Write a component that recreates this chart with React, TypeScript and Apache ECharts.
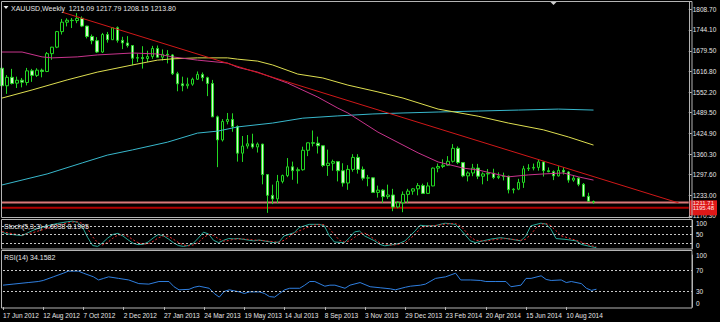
import React, { useEffect, useRef } from "react";
import * as echarts from "echarts";

// ---------- data ----------
const dateLabels = [
  "17 Jun 2012", "12 Aug 2012", "7 Oct 2012", "2 Dec 2012", "27 Jan 2013",
  "24 Mar 2013", "19 May 2013", "14 Jul 2013", "8 Sep 2013", "3 Nov 2013",
  "29 Dec 2013", "23 Feb 2014", "20 Apr 2014", "15 Jun 2014", "10 Aug 2014",
];
const LABEL_STEP = 8;
const SLOT_COUNT = 138; // weekly slots incl. chart shift space

const open = [
  1626, 1572, 1598, 1580, 1589, 1582, 1618, 1604, 1620, 1616, 1671, 1691, 1739, 1768, 1774, 1773, 1780, 1756, 1724, 1711,
  1676, 1730, 1714, 1751, 1712, 1704, 1696, 1657, 1659, 1656, 1662, 1687, 1660, 1669, 1667, 1609, 1578, 1572, 1577, 1592,
  1607, 1597, 1579, 1476, 1405, 1462, 1468, 1446, 1364, 1386, 1393, 1383, 1392, 1298, 1234, 1223, 1277, 1295, 1322, 1310,
  1313, 1373, 1396, 1395, 1387, 1326, 1333, 1338, 1310, 1272, 1314, 1351, 1314, 1287, 1288, 1243, 1250, 1230, 1235, 1198,
  1211, 1237, 1247, 1254, 1264, 1240, 1263, 1318, 1323, 1327, 1339, 1379, 1335, 1294, 1303, 1318, 1293, 1300, 1302, 1289,
  1293, 1293, 1251, 1253, 1274, 1316, 1318, 1320, 1337, 1310, 1307, 1294, 1311, 1306, 1281, 1287, 1268, 1231, 1215.09,
];
const high = [
  1628, 1605, 1624, 1600, 1596, 1627, 1624, 1626, 1625, 1676, 1692, 1741, 1778, 1780, 1781, 1796, 1786, 1757, 1730, 1722,
  1735, 1738, 1752, 1755, 1723, 1725, 1697, 1671, 1694, 1680, 1695, 1696, 1684, 1682, 1670, 1615, 1600, 1597, 1597, 1616,
  1613, 1600, 1590, 1480, 1469, 1488, 1487, 1450, 1417, 1420, 1424, 1397, 1393, 1299, 1267, 1297, 1298, 1349, 1338, 1320,
  1384, 1397, 1434, 1415, 1387, 1375, 1344, 1340, 1333, 1327, 1361, 1361, 1323, 1297, 1290, 1264, 1253, 1267, 1254, 1216,
  1246, 1254, 1256, 1272, 1270, 1274, 1320, 1332, 1345, 1355, 1392, 1385, 1336, 1308, 1331, 1331, 1305, 1315, 1316, 1305,
  1304, 1295, 1256, 1285, 1325, 1330, 1332, 1345, 1338, 1320, 1311, 1324, 1321, 1309, 1296, 1290, 1272, 1242, 1217.79,
];
const low = [
  1563, 1547, 1576, 1565, 1567, 1573, 1584, 1599, 1598, 1614, 1652, 1688, 1730, 1755, 1750, 1765, 1753, 1718, 1700, 1673,
  1673, 1705, 1713, 1705, 1685, 1690, 1635, 1645, 1625, 1645, 1655, 1658, 1650, 1641, 1605, 1555, 1555, 1563, 1572, 1590,
  1586, 1540, 1476, 1321, 1400, 1453, 1430, 1338, 1337, 1378, 1378, 1366, 1268, 1180, 1207, 1210, 1271, 1290, 1282, 1270,
  1310, 1355, 1385, 1363, 1321, 1294, 1310, 1277, 1261, 1251, 1307, 1301, 1280, 1262, 1241, 1227, 1211, 1223, 1185, 1194,
  1182, 1211, 1236, 1234, 1238, 1238, 1262, 1305, 1318, 1325, 1335, 1330, 1290, 1277, 1293, 1284, 1268, 1278, 1284, 1284,
  1280, 1240, 1240, 1250, 1257, 1309, 1311, 1310, 1292, 1305, 1281, 1292, 1298, 1273, 1276, 1262, 1229, 1215, 1208.15,
];
const close = [
  1572, 1598, 1579, 1589, 1583, 1618, 1604, 1620, 1616, 1671, 1691, 1739, 1768, 1774, 1773, 1780, 1756, 1724, 1711, 1676,
  1730, 1714, 1751, 1712, 1704, 1696, 1657, 1659, 1656, 1662, 1687, 1660, 1669, 1667, 1609, 1578, 1572, 1577, 1592, 1607,
  1597, 1579, 1476, 1405, 1462, 1468, 1446, 1364, 1386, 1393, 1383, 1392, 1298, 1234, 1223, 1277, 1295, 1322, 1310, 1313,
  1373, 1396, 1395, 1387, 1326, 1333, 1338, 1310, 1272, 1314, 1351, 1314, 1287, 1288, 1243, 1250, 1230, 1235, 1198, 1211,
  1237, 1247, 1254, 1264, 1240, 1263, 1318, 1323, 1327, 1339, 1379, 1335, 1294, 1303, 1318, 1293, 1300, 1302, 1289, 1293,
  1292, 1251, 1253, 1274, 1316, 1318, 1320, 1337, 1310, 1307, 1294, 1311, 1306, 1281, 1287, 1268, 1231, 1216, 1213.8,
];

// moving averages: [week index, price]
const maFast: [number, number][] = [
  [0, 1676], [4, 1676], [8, 1661], [10, 1658], [15, 1661], [19, 1667], [26, 1673], [31, 1670], [34, 1661], [39, 1651],
  [45, 1642], [47, 1629], [51, 1614], [57, 1580], [63, 1537], [67, 1503], [69, 1488], [75, 1429], [83, 1365], [87, 1337],
  [92, 1318], [95, 1312], [101, 1291], [105, 1297], [108, 1300], [112, 1303], [115, 1291], [118, 1281],
];
const maMid: [number, number][] = [
  [0, 1534], [6, 1559], [13, 1590], [19, 1614], [26, 1636], [31, 1651], [34, 1655], [39, 1658], [45, 1658], [47, 1654],
  [51, 1648], [54, 1636], [59, 1608], [64, 1596], [69, 1574], [75, 1553], [80, 1534], [87, 1500], [95, 1478], [101, 1457],
  [108, 1436], [113, 1414], [118, 1389],
];
const maSlow: [number, number][] = [
  [0, 1266], [9, 1300], [16, 1334], [21, 1358], [26, 1374], [33, 1398], [39, 1426], [43, 1432], [47, 1445], [54, 1457],
  [60, 1472], [67, 1479], [74, 1485], [80, 1488], [87, 1491], [95, 1494], [103, 1497], [111, 1500], [118, 1497],
];
const trendLine: [number, number][] = [[12, 1799], [135, 1210.5]];
const levelUpper = 1211.71;
const levelLower = 1195.48;

const priceTicks = [1170.3, 1233.0, 1297.6, 1360.3, 1424.9, 1489.5, 1552.2, 1616.8, 1679.5, 1744.1, 1808.7];
const PRICE_MIN = 1164.1;
const PRICE_MAX = 1830.3;

const stochK: [number, number][] = [
  [0, 58], [1, 52], [2, 50], [4, 46], [5, 55], [6, 63], [7, 70], [9, 80], [11, 88], [13, 94], [14, 96], [15, 92], [16, 75],
  [17, 40], [18, 12], [19, 9], [20, 22], [21, 38], [22, 50], [23, 54], [24, 45], [25, 32], [26, 20], [27, 15], [28, 16],
  [29, 24], [30, 38], [31, 50], [32, 46], [33, 35], [34, 22], [35, 12], [36, 9], [37, 12], [38, 20], [39, 38], [40, 58],
  [41, 52], [42, 30], [43, 22], [44, 30], [45, 36], [46, 35], [47, 36], [48, 33], [50, 28], [51, 31], [52, 28], [54, 22],
  [55, 24], [56, 45], [58, 56], [59, 74], [61, 85], [63, 85], [64, 80], [65, 45], [66, 24], [68, 22], [69, 39], [70, 59],
  [71, 62], [72, 45], [74, 28], [75, 16], [76, 11], [78, 16], [79, 20], [80, 28], [82, 62], [83, 82], [84, 80], [86, 80],
  [87, 85], [88, 89], [90, 85], [91, 68], [93, 28], [94, 22], [97, 34], [99, 39], [101, 34], [103, 28], [104, 45], [105, 80],
  [107, 89], [108, 86], [109, 68], [110, 36], [112, 33], [114, 28], [115, 16], [117, 8], [118, 4.6038],
];
const stochD: [number, number][] = [
  [0, 60], [2, 53], [4, 48], [6, 56], [8, 66], [10, 78], [12, 86], [14, 93], [15, 94], [16, 88], [17, 70], [18, 42], [19, 22],
  [20, 14], [21, 23], [22, 37], [23, 48], [24, 50], [25, 44], [26, 32], [27, 22], [28, 17], [29, 18], [30, 26], [31, 38],
  [32, 45], [33, 44], [34, 34], [35, 23], [36, 14], [37, 11], [38, 14], [39, 23], [40, 39], [41, 50], [42, 47], [43, 35],
  [44, 27], [45, 29], [46, 34], [48, 35], [50, 31], [52, 29], [54, 25], [55, 23], [56, 30], [57, 42], [58, 55], [60, 70],
  [62, 83], [64, 84], [65, 70], [66, 50], [67, 30], [68, 24], [69, 28], [70, 40], [71, 53], [72, 55], [73, 45], [74, 33],
  [75, 22], [76, 18], [77, 14], [78, 14], [80, 21], [81, 35], [82, 50], [83, 70], [84, 78], [86, 81], [88, 86], [90, 88],
  [91, 80], [92, 62], [93, 42], [94, 30], [96, 27], [98, 33], [100, 36], [102, 32], [103, 30], [104, 34], [105, 50],
  [106, 72], [107, 85], [108, 88], [109, 80], [110, 63], [111, 46], [113, 35], [114, 30], [115, 24], [116, 17], [117, 11],
  [118, 8.1905],
];
const stochLevels = [20, 50, 80];
const stochTicks = [0, 20, 50, 80, 100];

const rsi: [number, number][] = [
  [0, 42], [2, 44], [5, 47], [7, 49], [8, 51], [10, 58], [12, 65], [13, 69], [15, 69], [16, 65], [18, 58], [19, 52],
  [20, 55], [21, 58], [23, 55], [25, 52], [27, 45], [29, 44], [31, 49], [33, 49], [34, 39], [35, 33], [37, 34], [38, 38],
  [39, 40], [41, 36], [42, 26], [43, 19], [44, 30], [45, 33], [47, 29], [48, 26], [49, 29], [51, 29], [52, 26], [53, 20],
  [54, 19], [55, 26], [56, 33], [57, 36], [59, 36], [60, 42], [61, 49], [62, 49], [64, 40], [65, 42], [66, 42], [68, 36],
  [69, 42], [71, 47], [73, 39], [75, 37], [77, 35], [78, 33], [80, 38], [81, 40], [83, 42], [84, 44], [86, 55], [88, 58],
  [90, 65], [91, 52], [93, 52], [95, 51], [96, 49], [98, 49], [100, 49], [101, 39], [103, 42], [104, 55], [105, 55],
  [107, 60], [108, 53], [109, 51], [111, 52], [112, 47], [113, 49], [115, 45], [116, 36], [117, 32], [118, 34.1582],
];
const rsiLevels = [30, 70];
const rsiTicks = [0, 30, 70, 100];

// ---------- styling ----------
const FONT = "'Liberation Sans Narrow', 'Liberation Sans', Arial, sans-serif";
const TEXT = "#e6e6e6";
const FRAME = "#b4b4b4";
const AXIS_FONT = 6.5;
const LEVEL_FONT = 6;

export default function App() {
  const ref = useRef<HTMLDivElement | null>(null);

  useEffect(() => {
    if (!ref.current) return;
    const chart = echarts.init(ref.current, undefined, { renderer: "svg" });
    const slots = Array.from({ length: SLOT_COUNT }, (_, i) => String(i));
    const candleData = open.map((o, i) => [o, close[i], low[i], high[i]]);
    const last = open.length - 1;
    const header = `XAUUSD,Weekly  ${open[last].toFixed(2)} ${high[last].toFixed(2)} ${low[last].toFixed(2)} ${close[last].toFixed(2)}`;
    const stochHeader = `Stoch(5,3,3) ${stochK[stochK.length - 1][1].toFixed(4)} ${stochD[stochD.length - 1][1].toFixed(4)}`;
    const rsiHeader = `RSI(14) ${rsi[rsi.length - 1][1].toFixed(4)}`;
    const isLabelSlot = (i: number) => i % LABEL_STEP === 0 && i / LABEL_STEP < dateLabels.length;

    const xAxis = [0, 1, 2].map((g) => ({
      type: "category",
      gridIndex: g,
      data: slots,
      boundaryGap: false,
      axisLine: { show: false },
      axisTick: g === 2
        ? { show: true, interval: (i: number) => isLabelSlot(i), length: 3, lineStyle: { color: FRAME } }
        : { show: false },
      axisLabel: g === 2
        ? {
            show: true,
            interval: (i: number) => isLabelSlot(i),
            formatter: (_v: string, i: number) => (isLabelSlot(i) ? dateLabels[i / LABEL_STEP] : ""),
            align: "left",
            color: TEXT,
            fontSize: AXIS_FONT,
            fontFamily: FONT,
            margin: 5,
          }
        : { show: false },
      splitLine: { show: false },
    }));

    const valueLabel = (vals: number[], fmt: (v: number) => string, extra: any = {}) => ({
      customValues: vals,
      formatter: (v: number) => fmt(v),
      color: TEXT,
      fontSize: AXIS_FONT,
      fontFamily: FONT,
      margin: 4,
      hideOverlap: false,
      showMinLabel: true,
      showMaxLabel: true,
      ...extra,
    });

    const priceAxisBase = {
      type: "value", gridIndex: 0, position: "right", min: PRICE_MIN, max: PRICE_MAX,
      axisLine: { show: false }, axisTick: { show: false }, splitLine: { show: false },
    };

    const yAxis: any[] = [
      {
        ...priceAxisBase,
        axisLine: { show: true, lineStyle: { color: FRAME } },
        axisTick: { show: true, customValues: priceTicks, length: 3, lineStyle: { color: FRAME } },
        axisLabel: valueLabel(priceTicks, (v) => v.toFixed(2)),
      },
      {
        // lower level label carries the shared red box
        ...priceAxisBase,
        axisLabel: {
          customValues: [levelLower],
          formatter: (v: number) => v.toFixed(2),
          color: "#ffe4e4", backgroundColor: "#e01818", padding: [5.5, 3, 3.5, 3],
          fontSize: LEVEL_FONT, fontFamily: FONT, margin: 1, hideOverlap: false,
          showMinLabel: true, showMaxLabel: true,
        },
      },
      {
        ...priceAxisBase,
        axisLabel: {
          customValues: [levelUpper],
          formatter: (v: number) => v.toFixed(2),
          color: "#ffe4e4", padding: [0, 3, 1.4, 3],
          fontSize: LEVEL_FONT, fontFamily: FONT, margin: 1, hideOverlap: false,
          showMinLabel: true, showMaxLabel: true,
        },
      },
      {
        type: "value", gridIndex: 1, position: "right", min: 0, max: 100,
        axisLine: { show: true, lineStyle: { color: FRAME } },
        axisTick: { show: false },
        axisLabel: valueLabel(stochTicks, (v) => String(v), {
          verticalAlignMaxLabel: "top",
          verticalAlignMinLabel: "bottom",
        }),
        splitLine: { show: false },
      },
      {
        type: "value", gridIndex: 2, position: "right", min: 0, max: 100,
        axisLine: { show: true, lineStyle: { color: FRAME } },
        axisTick: { show: false },
        axisLabel: valueLabel(rsiTicks, (v) => String(v), { verticalAlignMinLabel: "bottom" }),
        splitLine: { show: false },
      },
    ];

    const lineSeries = (data: any[], color: string, extra: any = {}) => ({
      type: "line",
      data,
      symbol: "none",
      silent: true,
      lineStyle: { color, width: 1 },
      ...extra,
    });

    const levelMark = (levels: number[]) => ({
      silent: true,
      symbol: ["none", "none"],
      label: { show: false },
      lineStyle: { color: "#c8c8c8", type: [2, 2], width: 1 },
      data: levels.map((v) => ({ yAxis: v })),
    });

    const option: any = {
      animation: false,
      backgroundColor: "#000000",
      textStyle: { fontFamily: FONT },
      grid: [
        { left: 2, top: 2, width: 690, height: 216 },
        { left: 2, top: 220, width: 690, height: 29 },
        { left: 2, top: 255, width: 690, height: 52 },
      ],
      xAxis,
      yAxis,
      series: [
        lineSeries([[0, levelUpper], [SLOT_COUNT - 1, levelUpper]], "#d87878", { lineStyle: { color: "#d87878", width: 2 }, z: 1 }),
        lineSeries([[0, levelLower], [SLOT_COUNT - 1, levelLower]], "#b00000", { lineStyle: { color: "#b00000", width: 2 }, z: 1 }),
        {
          type: "candlestick",
          xAxisIndex: 0,
          yAxisIndex: 0,
          data: candleData,
          barWidth: 3,
          silent: true,
          z: 2,
          itemStyle: {
            color: "#000000",
            color0: "#d8f5d0",
            borderColor: "#22d822",
            borderColor0: "#22d822",
            borderColorDoji: "#22d822",
            borderWidth: 1,
          },
        },
        lineSeries(maSlow, "#38b8cc", { z: 3 }),
        lineSeries(maMid, "#dede50", { z: 3 }),
        lineSeries(maFast, "#c8348c", { z: 3 }),
        lineSeries(trendLine, "#d01818", { z: 3 }),
        lineSeries(stochK, "#26a898", { xAxisIndex: 1, yAxisIndex: 3, markLine: levelMark(stochLevels) }),
        lineSeries(stochD, "#e02828", { xAxisIndex: 1, yAxisIndex: 3, lineStyle: { color: "#e02828", width: 1, type: [2, 2] } }),
        lineSeries(rsi, "#2f7fe0", { xAxisIndex: 2, yAxisIndex: 4, markLine: levelMark(rsiLevels) }),
      ],
      graphic: [
        { type: "rect", shape: { x: 1.5, y: 1.5, width: 690.5, height: 216 }, style: { fill: "none", stroke: FRAME, lineWidth: 1 }, silent: true, z: 10 },
        { type: "rect", shape: { x: 1.5, y: 219.5, width: 690.5, height: 29.5 }, style: { fill: "none", stroke: FRAME, lineWidth: 1 }, silent: true, z: 10 },
        { type: "rect", shape: { x: 1.5, y: 250.5, width: 690.5, height: 57.5 }, style: { fill: "none", stroke: FRAME, lineWidth: 1 }, silent: true, z: 10 },
        { type: "polygon", shape: { points: [[3.5, 6], [8.5, 6], [6, 9]] }, style: { fill: "#e6e6e6" }, silent: true, z: 10 },
        { type: "polygon", shape: { points: [[550.5, 2], [556.5, 2], [553.5, 5]] }, style: { fill: "#d0d0d0" }, silent: true, z: 10 },
        { type: "text", x: 11, y: 8, style: { text: header, fill: TEXT, fontSize: 7, fontFamily: FONT, verticalAlign: "middle" }, silent: true, z: 10 },
        { type: "text", x: 4, y: 226.5, style: { text: stochHeader, fill: TEXT, fontSize: 7, fontFamily: FONT, verticalAlign: "middle" }, silent: true, z: 10 },
        { type: "text", x: 4, y: 257, style: { text: rsiHeader, fill: TEXT, fontSize: 7, fontFamily: FONT, verticalAlign: "middle" }, silent: true, z: 10 },
      ],
    };

    chart.setOption(option);
    return () => chart.dispose();
  }, []);

  return (
    <div
      ref={ref}
      style={{ position: "absolute", left: 0, top: 0, width: 720, height: 322, background: "#000" }}
    />
  );
}
